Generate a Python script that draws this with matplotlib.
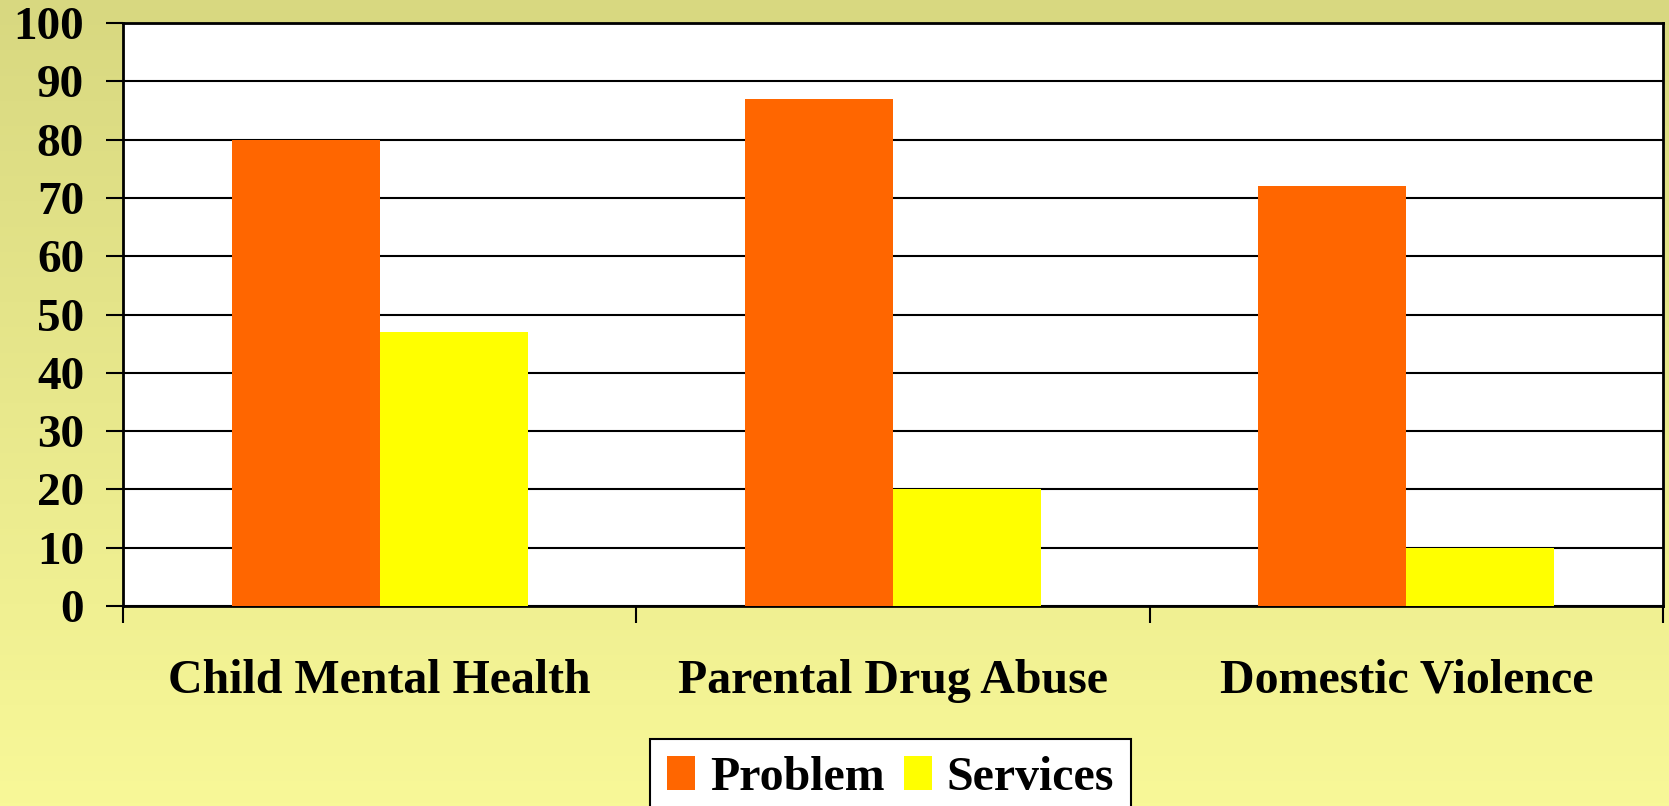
import matplotlib.pyplot as plt
import numpy as np
from matplotlib.colors import LinearSegmentedColormap

categories = ["Child Mental Health", "Parental Drug Abuse", "Domestic Violence"]
problem = [80, 87, 72]
services = [47, 20, 10]
series_names = ["Problem", "Services"]
y_ticks = [0, 10, 20, 30, 40, 50, 60, 70, 80, 90, 100]


def main():
    plt.rcParams['font.family'] = ['Liberation Serif', 'DejaVu Serif']
    plt.rcParams['font.weight'] = 'bold'

    fig = plt.figure(figsize=(16.69, 8.06), dpi=100)

    # Gradient background
    bg = fig.add_axes([0, 0, 1, 1], zorder=-10)
    cmap = LinearSegmentedColormap.from_list("bg", ["#D8D880", "#F8F898"])
    bg.imshow(np.linspace(0, 1, 256).reshape(-1, 1), cmap=cmap,
              aspect='auto', extent=[0, 1, 0, 1])
    bg.axis('off')

    ax = fig.add_axes([0.0737, 0.2481, 0.9227, 0.7234])
    ax.set_facecolor('white')

    x = np.arange(len(categories))
    w = 0.288
    ax.bar(x - w / 2, problem, w, color='#FF6600', label=series_names[0], zorder=3)
    ax.bar(x + w / 2, services, w, color='#FFFF00', label=series_names[1], zorder=3)

    ax.set_xlim(-0.5, 2.5)
    ax.set_ylim(0, 100)
    ax.set_yticks(y_ticks)
    ax.set_yticklabels([str(v) for v in y_ticks], fontsize=34, fontweight='bold')
    ax.yaxis.grid(True, color='black', linewidth=1.5, zorder=1)
    ax.tick_params(axis='y', length=12, width=1.5, pad=16)

    ax.set_xticks(x)
    ax.set_xticklabels(categories, fontsize=34.5, fontweight='bold')
    ax.tick_params(axis='x', which='major', length=0, pad=38)
    ax.set_xticks([-0.5, 0.5, 1.5, 2.5], minor=True)
    ax.tick_params(axis='x', which='minor', length=12, width=1.5)

    for s in ax.spines.values():
        s.set_linewidth(2)
        s.set_color('black')

    leg = fig.legend(loc='upper center', bbox_to_anchor=(0.5335, 0.083), ncol=2,
                     fontsize=34.5, frameon=True, fancybox=False, edgecolor='black',
                     framealpha=1, facecolor='white', borderaxespad=0,
                     handlelength=0.6, handleheight=0.7, handletextpad=0.3,
                     columnspacing=0.4, borderpad=0.35)
    leg.get_frame().set_linewidth(1.5)
    for t in leg.get_texts():
        t.set_fontweight('bold')

    fig.savefig("out.png", dpi=100)


if __name__ == "__main__":
    main()
